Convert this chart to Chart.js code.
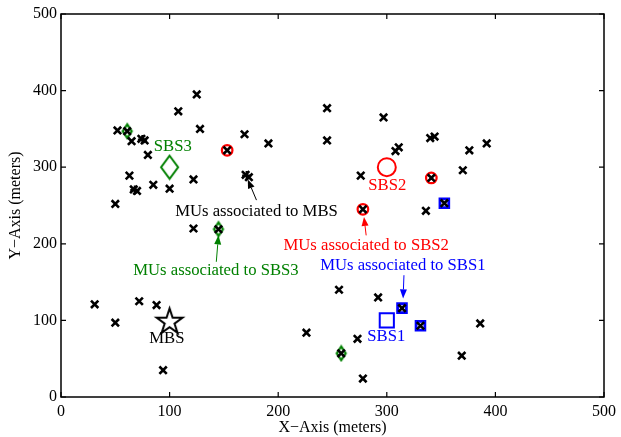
<!DOCTYPE html>
<html><head><meta charset="utf-8">
<script src="https://cdn.jsdelivr.net/npm/chart.js@4/dist/chart.umd.min.js"></script>
<style>html,body{margin:0;padding:0;background:#fff}</style>
</head><body>
<canvas id="c" width="621" height="437"></canvas>
<script>
// ---------- data ----------
const xTicks = [0, 100, 200, 300, 400, 500];
const yTicks = [0, 100, 200, 300, 400, 500];

// all mobile users (black x)
const muX = [31, 50, 72, 88, 94, 122, 50, 226, 145, 52, 61, 65, 74, 77, 80, 63, 67, 70, 85, 100, 108, 125, 128, 122, 153, 169, 191, 170, 173, 245, 245, 297, 308, 311, 340, 344, 376, 392, 370, 276, 341, 278, 336, 353, 256, 292, 314, 331, 386, 273, 258, 369, 278];
const muY = [121, 97, 125, 120, 35, 220, 252, 84, 219, 348, 347, 334, 337, 335, 316, 289, 271, 269, 277, 272, 373, 395, 350, 284, 322, 343, 331, 290, 287, 377, 335, 365, 321, 326, 338, 340, 322, 331, 296, 289, 286, 245, 243, 253, 140, 130, 116, 93, 96, 76, 57, 54, 24];

// associated users
const mbsAssocX = [75, 68, 171];
const mbsAssocY = [336, 270, 289];
const sbs1AssocX = [353, 314, 331];
const sbs1AssocY = [253, 116, 93];
const sbs2AssocX = [153, 341, 278];
const sbs2AssocY = [322, 286, 245];
const sbs3AssocX = [61, 145, 258];
const sbs3AssocY = [347, 219, 57];

// base stations
const mbsX = [100], mbsY = [100];
const sbs1X = [300], sbs1Y = [100];
const sbs2X = [300], sbs2Y = [300];
const sbs3X = [100], sbs3Y = [300];

// annotations: text labels (data coords) and arrows
const labelText  = ['SBS3', 'MBS', 'SBS2', 'SBS1', 'MUs associated to MBS', 'MUs associated to SBS3', 'MUs associated to SBS2', 'MUs associated to SBS1'];
const labelX     = [103, 97.5, 300.5, 299.5, 180, 142.7, 281, 314.8];
const labelY     = [327, 76.5, 276.5, 78.7, 242.6, 165, 197, 171];
const labelColor = ['#008000', '#000000', '#ff0000', '#0000ff', '#000000', '#008000', '#ff0000', '#0000ff'];
const arrowFromX = [180, 143, 281, 315.8];
const arrowFromY = [257, 176.5, 211, 159];
const arrowToX   = [172, 145, 279, 315];
const arrowToY   = [284, 211, 235, 128.7];
const arrowColor = ['#000000', '#008000', '#ff0000', '#0000ff'];

const pts = (xs, ys) => xs.map((x, i) => ({x, y: ys[i]}));

// ---------- custom marker images ----------
function diamond(hw, hh, color, lw) {
  const c = document.createElement('canvas');
  c.width = Math.ceil(2 * hw + lw + 2); c.height = Math.ceil(2 * hh + lw + 2);
  const g = c.getContext('2d');
  const cx = c.width / 2, cy = c.height / 2;
  g.strokeStyle = color; g.lineWidth = lw; g.lineJoin = 'miter';
  g.beginPath();
  g.moveTo(cx, cy - hh); g.lineTo(cx + hw, cy); g.lineTo(cx, cy + hh); g.lineTo(cx - hw, cy); g.closePath();
  g.stroke();
  return c;
}
function pentagram(R, color, lw) {
  const c = document.createElement('canvas');
  c.width = c.height = Math.ceil(2 * R + lw + 4);
  const g = c.getContext('2d');
  const cx = c.width / 2, cy = c.height / 2 + 1.5;
  const r = R * 0.382;
  g.strokeStyle = color; g.lineWidth = lw; g.lineJoin = 'miter';
  g.beginPath();
  for (let k = 0; k < 10; k++) {
    const a = -Math.PI / 2 + k * Math.PI / 5;
    const rr = (k % 2 === 0) ? R : r;
    const px = cx + rr * Math.cos(a), py = cy + rr * Math.sin(a);
    if (k === 0) g.moveTo(px, py); else g.lineTo(px, py);
  }
  g.closePath();
  g.stroke();
  return c;
}
const smallDiamond = diamond(4.5, 6.8, '#008000', 2.2);
const bigDiamond = diamond(8.5, 11.5, '#008000', 2);
const starImg = pentagram(13.5, '#000000', 2);

// ---------- plugins ----------
const SERIF = '"Liberation Serif", "DejaVu Serif", serif';
const framePlugin = {
  id: 'frame',
  afterDatasetsDraw(chart) {
    const {ctx, chartArea: a, scales: {x, y}} = chart;
    ctx.save();
    ctx.strokeStyle = '#000';
    ctx.lineWidth = 1.5;
    ctx.strokeRect(a.left, a.top, a.right - a.left, a.bottom - a.top);
    const tl = 5;
    ctx.lineWidth = 1.2;
    ctx.beginPath();
    xTicks.forEach(v => {
      const px = x.getPixelForValue(v);
      ctx.moveTo(px, a.bottom); ctx.lineTo(px, a.bottom - tl);
      ctx.moveTo(px, a.top); ctx.lineTo(px, a.top + tl);
    });
    yTicks.forEach(v => {
      const py = y.getPixelForValue(v);
      ctx.moveTo(a.left, py); ctx.lineTo(a.left + tl, py);
      ctx.moveTo(a.right, py); ctx.lineTo(a.right - tl, py);
    });
    ctx.stroke();

    // arrows
    arrowFromX.forEach((fx, i) => {
      const x0 = x.getPixelForValue(fx), y0 = y.getPixelForValue(arrowFromY[i]);
      const x1 = x.getPixelForValue(arrowToX[i]), y1 = y.getPixelForValue(arrowToY[i]);
      const ang = Math.atan2(y1 - y0, x1 - x0);
      const hl = 9, hw = 3.5;
      ctx.strokeStyle = arrowColor[i]; ctx.fillStyle = arrowColor[i];
      ctx.lineWidth = 1;
      ctx.beginPath();
      ctx.moveTo(x0, y0);
      ctx.lineTo(x1 - hl * Math.cos(ang), y1 - hl * Math.sin(ang));
      ctx.stroke();
      ctx.beginPath();
      ctx.moveTo(x1, y1);
      ctx.lineTo(x1 - hl * Math.cos(ang) + hw * Math.sin(ang), y1 - hl * Math.sin(ang) - hw * Math.cos(ang));
      ctx.lineTo(x1 - hl * Math.cos(ang) - hw * Math.sin(ang), y1 - hl * Math.sin(ang) + hw * Math.cos(ang));
      ctx.closePath();
      ctx.fill();
    });

    // text labels
    ctx.font = '16.7px ' + SERIF;
    ctx.textAlign = 'center';
    ctx.textBaseline = 'middle';
    labelText.forEach((t, i) => {
      ctx.fillStyle = labelColor[i];
      ctx.fillText(t, x.getPixelForValue(labelX[i]), y.getPixelForValue(labelY[i]));
    });
    ctx.restore();
  }
};

// ---------- chart ----------
new Chart(document.getElementById('c'), {
  type: 'scatter',
  data: {
    datasets: [
      {data: pts(muX, muY), pointStyle: 'crossRot', radius: 5.2, borderColor: '#000', borderWidth: 2.6, order: 1},
      {data: pts(mbsAssocX, mbsAssocY), pointStyle: 'cross', radius: 4.6, borderColor: '#000', borderWidth: 2.2, order: 0},
      {data: pts(sbs1AssocX, sbs1AssocY), pointStyle: 'rect', radius: 6.2, borderColor: '#0000ff', backgroundColor: '#ffffff', borderWidth: 2.8, order: 2},
      {data: pts(sbs2AssocX, sbs2AssocY), pointStyle: 'circle', radius: 5.3, borderColor: '#ff0000', backgroundColor: 'rgba(0,0,0,0)', borderWidth: 2.2, order: 2},
      {data: pts(sbs3AssocX, sbs3AssocY), pointStyle: smallDiamond, radius: 5, order: 2},
      {data: pts(mbsX, mbsY), pointStyle: starImg, radius: 13, order: 2},
      {data: pts(sbs1X, sbs1Y), pointStyle: 'rect', radius: 10, borderColor: '#0000ff', backgroundColor: 'rgba(0,0,0,0)', borderWidth: 2, order: 2},
      {data: pts(sbs2X, sbs2Y), pointStyle: 'circle', radius: 9, borderColor: '#ff0000', backgroundColor: 'rgba(0,0,0,0)', borderWidth: 2, order: 2},
      {data: pts(sbs3X, sbs3Y), pointStyle: bigDiamond, radius: 12, order: 2}
    ]
  },
  options: {
    responsive: false,
    animation: false,
    events: [],
    layout: {padding: {left: 0, right: 13, top: 14, bottom: 0}},
    plugins: {legend: {display: false}, tooltip: {enabled: false}},
    scales: {
      x: {
        type: 'linear', min: 0, max: 500,
        afterBuildTicks: s => { s.ticks = xTicks.map(v => ({value: v})); },
        ticks: {font: {family: SERIF, size: 16}, color: '#000', padding: 5, maxRotation: 0},
        grid: {display: false, drawTicks: false},
        border: {display: false},
        title: {display: true, text: 'X\u2212Axis (meters)', font: {family: SERIF, size: 16}, color: '#000', padding: {top: 0, bottom: 0}},
        afterFit: s => { s.height = 40; }
      },
      y: {
        type: 'linear', min: 0, max: 500,
        afterBuildTicks: s => { s.ticks = yTicks.map(v => ({value: v})); },
        ticks: {font: {family: SERIF, size: 16}, color: '#000', padding: 4},
        grid: {display: false, drawTicks: false},
        border: {display: false},
        title: {display: true, text: 'Y\u2212Axis (meters)', font: {family: SERIF, size: 16}, color: '#000', padding: {top: 6, bottom: 0}},
        afterFit: s => { s.width = 61; }
      }
    }
  },
  plugins: [framePlugin]
});
</script>
</body></html>
